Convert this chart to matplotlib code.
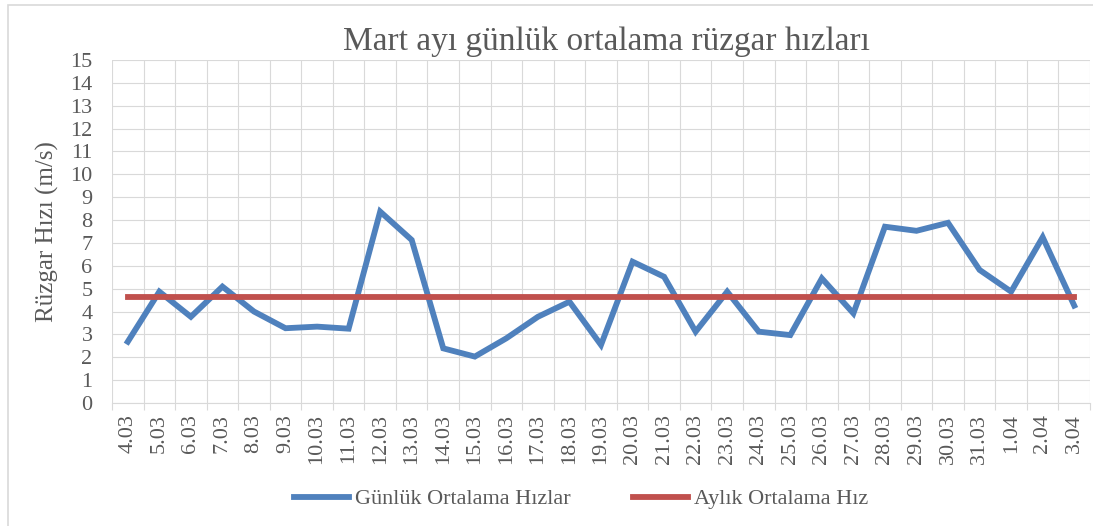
import matplotlib
matplotlib.use("Agg")
import matplotlib.pyplot as plt
from matplotlib.patches import Rectangle
from matplotlib.ticker import FixedLocator

# ---- data ----
dates = ["4.03", "5.03", "6.03", "7.03", "8.03", "9.03", "10.03", "11.03", "12.03",
         "13.03", "14.03", "15.03", "16.03", "17.03", "18.03", "19.03", "20.03",
         "21.03", "22.03", "23.03", "24.03", "25.03", "26.03", "27.03", "28.03",
         "29.03", "30.03", "31.03", "1.04", "2.04", "3.04"]
daily_speed = [2.68, 4.87, 3.77, 5.09, 4.00, 3.27, 3.34, 3.25, 8.37, 7.13, 2.39,
               2.03, 2.83, 3.77, 4.43, 2.54, 6.18, 5.52, 3.12, 4.87, 3.12, 2.97,
               5.45, 3.92, 7.71, 7.53, 7.88, 5.82, 4.87, 7.25, 4.26]
monthly_mean = 4.65
y_ticks = list(range(0, 16))

title = "Mart ayı günlük ortalama rüzgar hızları"
ylabel = "Rüzgar Hızı (m/s)"
label_daily = "Günlük Ortalama Hızlar"
label_mean = "Aylık Ortalama Hız"

# ---- style ----
plt.rcParams['font.family'] = ['Liberation Serif', 'DejaVu Serif']
text_color = "#595959"
grid_color = "#D9D9D9"
blue = "#4F81BD"
red = "#C0504D"

fig = plt.figure(figsize=(10.93, 5.26), dpi=100)
ax = fig.add_axes([112 / 1093, 1 - 403 / 526, (1090 - 112) / 1093, (403 - 60) / 526])

x = list(range(len(dates)))
ax.plot(x, daily_speed, color=blue, lw=4.2, solid_joinstyle='miter', label=label_daily, zorder=3)
ax.plot([x[0], x[-1]], [monthly_mean, monthly_mean], color=red, lw=4.2,
        label=label_mean, zorder=4)

ax.set_xlim(-0.5, len(dates) - 0.5)
ax.set_ylim(0, 15)

ax.set_xticks(x)
ax.set_xticklabels(dates, rotation=90, fontsize=16, color=text_color)
ax.xaxis.set_minor_locator(FixedLocator([i - 0.5 for i in range(len(dates) + 1)]))
ax.tick_params(axis='x', which='major', length=0, pad=8)
ax.tick_params(axis='x', which='minor', length=5, color=grid_color, width=0.8)
ax.set_yticks(y_ticks)
ax.set_yticklabels([str(v) for v in y_ticks], fontsize=16, color=text_color)
ax.tick_params(axis='y', length=0, pad=14)

ax.grid(True, which='major', axis='y', color=grid_color, lw=0.8)
ax.grid(True, which='minor', axis='x', color=grid_color, lw=0.8)
ax.set_axisbelow(True)
for s in ['top', 'right', 'left']:
    ax.spines[s].set_visible(False)
ax.spines['bottom'].set_color(grid_color)
ax.spines['bottom'].set_linewidth(0.8)

ax.set_ylabel(ylabel, fontsize=18, color=text_color, labelpad=8)

fig.text(606 / 1093, 1 - 50 / 526, title, fontsize=24, color=text_color,
         ha='center', va='baseline')

fig.legend(loc='center', bbox_to_anchor=(581 / 1093, 1 - 499 / 526), ncol=2,
           frameon=False, fontsize=16, handlelength=2.5, handletextpad=0.25,
           columnspacing=2.8, labelcolor=text_color)

fig.patches.append(Rectangle((8 / 1093, -0.01), 1.0, 1 - 5 / 526 + 0.01,
                             transform=fig.transFigure, fill=False,
                             edgecolor=grid_color, lw=1.2))

fig.savefig("out.png", dpi=100, facecolor="white")
